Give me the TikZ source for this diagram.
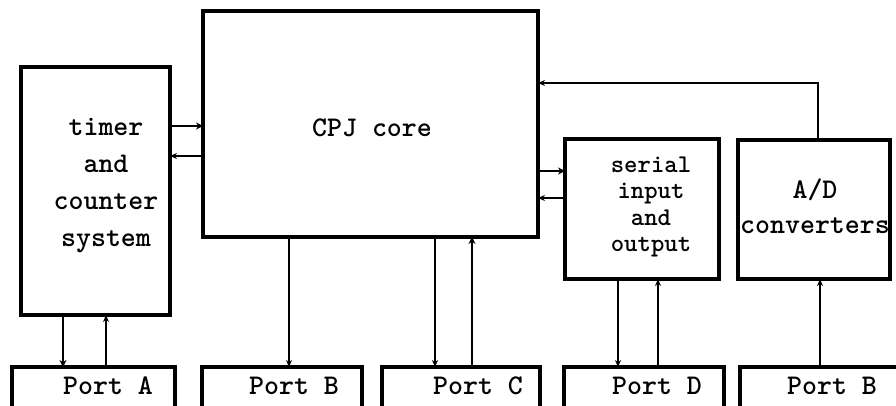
\documentclass[tikz,border=0pt]{standalone}
\usepackage{fontspec}
\usetikzlibrary{arrows.meta}
\begin{document}
\begin{tikzpicture}[x=1pt,y=-1pt,
  box/.style={draw,line width=3.2pt,anchor=north west,inner sep=0pt,outer sep=0pt},
  txt/.style={font=\ttfamily\bfseries\fontsize{28.5}{30}\selectfont,align=center,inner sep=0pt},
  wire/.style={line width=1.6pt,-{Stealth[length=7pt,width=6pt]}},
  thick wire/.style={line width=2.6pt,-{Stealth[length=7pt,width=7pt]}}]
\useasboundingbox (0,0) rectangle (896,405);
\clip (0,0) rectangle (896,405);
\fill[white] (0,0) rectangle (896,405);
% blocks
\node[box,minimum width=149pt,minimum height=248pt] (timer) at (21,67) {};
\node[box,minimum width=335pt,minimum height=226pt] (cpu) at (203,11) {};
\node[box,minimum width=154pt,minimum height=140pt] (serial) at (565,139) {};
\node[box,minimum width=152pt,minimum height=139pt] (ad) at (738,140) {};
% ports
\node[box,minimum width=163pt,minimum height=60pt] (pa) at (12,367) {};
\node[box,minimum width=160pt,minimum height=60pt] (pb) at (202,367) {};
\node[box,minimum width=158pt,minimum height=60pt] (pc) at (382,367) {};
\node[box,minimum width=160pt,minimum height=60pt] (pd) at (564,367) {};
\node[box,minimum width=170pt,minimum height=60pt] (pe) at (740,367) {};
% texts
\node[txt,font=\ttfamily\bfseries\fontsize{28.5}{37}\selectfont] (ttimer) at (106,186) {timer\\and\\counter\\system};
\node[txt] (tcpu) at (372,128) {CPJ core};
\node[txt,font=\ttfamily\bfseries\fontsize{25.5}{26.5}\selectfont] (tserial) at (651,207) {serial\\input\\and\\output};
\node[txt,font=\ttfamily\bfseries\fontsize{28.5}{35}\selectfont] (tad) at (815,206) {A/D\\converters};
\node[txt] (tpa) at (108,386) {Port A};
\node[txt] (tpb) at (294,386) {Port B};
\node[txt] (tpc) at (478,386) {Port C};
\node[txt] (tpd) at (657,386) {Port D};
\node[txt] (tpe) at (832,386) {Port B};
% timer <-> cpu
\draw[thick wire] (timer.east |- 0,126) -- (cpu.west |- 0,126);
\draw[wire] (cpu.west |- 0,156) -- (timer.east |- 0,156);
% timer <-> port A
\draw[thick wire] (timer.south -| 63,0) -- (pa.north -| 63,0);
\draw[wire] (pa.north -| 106,0) -- (timer.south -| 106,0);
% cpu <-> ports
\draw[wire] (cpu.south -| 289,0) -- (pb.north -| 289,0);
\draw[wire] (cpu.south -| 435,0) -- (pc.north -| 435,0);
\draw[thick wire] (pc.north -| 472,0) -- (cpu.south -| 472,0);
% cpu <-> serial
\draw[thick wire] (cpu.east |- 0,171) -- (serial.west |- 0,171);
\draw[wire] (serial.west |- 0,198) -- (cpu.east |- 0,198);
% A/D -> cpu
\draw[wire,line width=2.2pt] (ad.north -| 818,0) |- (cpu.east |- 0,83);
% serial <-> port D
\draw[wire] (serial.south -| 618,0) -- (pd.north -| 618,0);
\draw[wire] (pd.north -| 658,0) -- (serial.south -| 658,0);
% port E -> A/D
\draw[wire] (pe.north -| 820,0) -- (ad.south -| 820,0);
\end{tikzpicture}
\end{document}
